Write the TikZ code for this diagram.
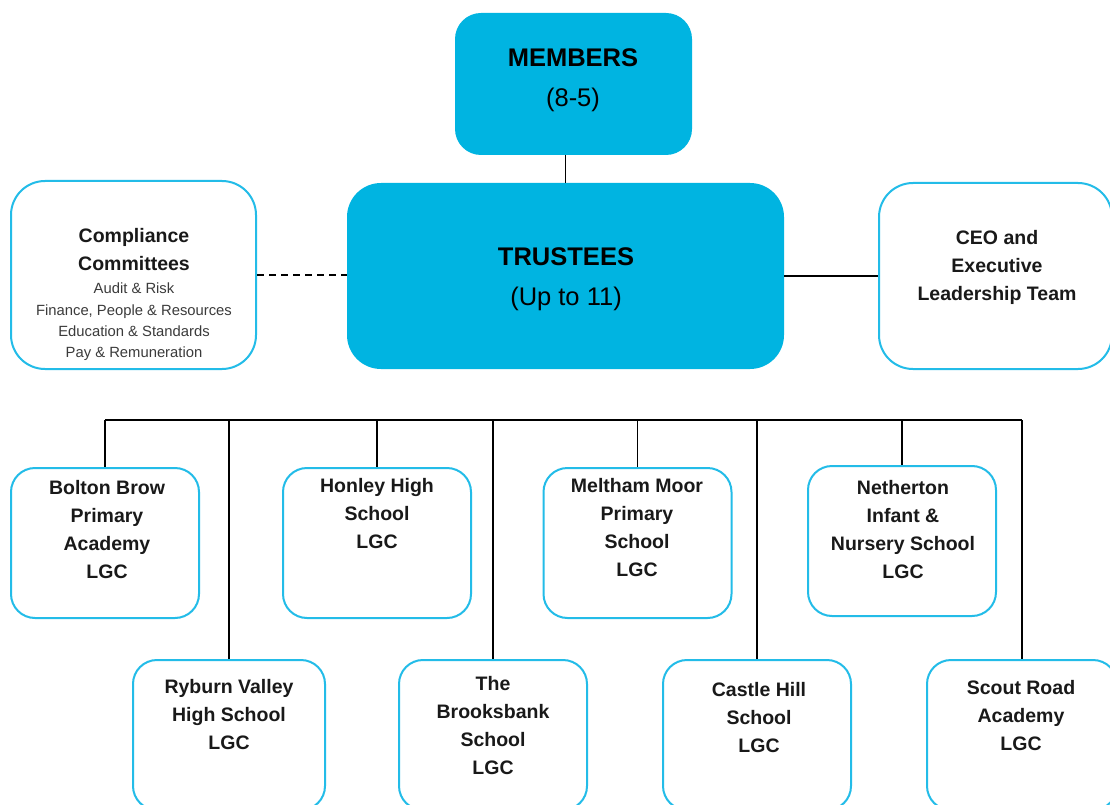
\documentclass[tikz,border=0pt]{standalone}
\usepackage{fontspec}
\setmainfont{Liberation Sans}
\definecolor{cy}{RGB}{0,180,225}
\definecolor{cyl}{RGB}{35,188,232}
\definecolor{txt}{RGB}{25,25,25}
\begin{document}
\begin{tikzpicture}[x=1pt,y=-1pt,
  filledbox/.style={fill=cy, draw=none, inner sep=0, rounded corners=26pt},
  outlinebox/.style={draw=cyl, line width=2pt, fill=white, inner sep=0, rounded corners=34pt},
  schoolbox/.style={draw=cyl, line width=2pt, fill=white, inner sep=0, rounded corners=24pt,
     minimum width=188pt, minimum height=150pt},
  lbl/.style={anchor=north, align=center, inner sep=0, text=txt,
     font=\bfseries\fontsize{19.5}{28}\selectfont},
  biglbl/.style={anchor=north, align=center, inner sep=0, text=black,
     font=\fontsize{25.5}{40.5}\selectfont},
  smalllbl/.style={anchor=north, align=center, inner sep=0, text=txt!85,
     font=\fontsize{14.8}{21.3}\selectfont},
  conn/.style={draw=black, line width=1.5pt},
  dconn/.style={draw=black, line width=1.5pt, dash pattern=on 7pt off 5pt}]
\useasboundingbox (0,0) rectangle (1110,805);
\fill[white] (0,0) rectangle (1110,805);

% top boxes
\node[filledbox, minimum width=237pt, minimum height=142pt] (members) at (573.5,84) {};
\node[filledbox, rounded corners=34pt, minimum width=437pt, minimum height=186pt] (trustees) at (565.5,276) {};
\node[outlinebox, minimum width=245pt, minimum height=188pt] (compl) at (133.5,275) {};
\node[outlinebox, minimum width=233pt, minimum height=186pt] (ceo) at (995.5,276) {};

\node[biglbl] (membersT) at (573,48) {\textbf{MEMBERS}\\(8-5)};
\node[biglbl] (trusteesT) at (566,247) {\textbf{TRUSTEES}\\(Up to 11)};
\node[lbl] (complHead) at (134,228) {Compliance\\Committees};
\node[smalllbl] (complList) at (134,283) {Audit \& Risk\\Finance, People \& Resources\\Education \& Standards\\Pay \& Remuneration};
\node[lbl] (ceoT) at (997,230) {CEO and\\Executive\\Leadership Team};

% connectors at top
\draw[conn] (members.south -| trustees.north) -- (trustees.north);
\draw[dconn] (compl.east) -- (compl.east -| trustees.west);
\draw[conn] (trustees.east) -- (ceo.west);

% school boxes, top row
\node[schoolbox] (bolton) at (105,543) {};
\node[schoolbox] (honley) at (377,543) {};
\node[schoolbox] (meltham) at (637.5,543) {};
\node[schoolbox] (nether) at (902,541) {};
% bottom row
\node[schoolbox, minimum width=192pt] (ryburn) at (229,735) {};
\node[schoolbox] (brooks) at (493,735) {};
\node[schoolbox] (castle) at (757,735) {};
\node[schoolbox, minimum width=190pt] (scout) at (1022,735) {};

\node[lbl] (boltonT) at (107,480) {Bolton Brow\\Primary\\Academy\\LGC};
\node[lbl] (honleyT) at (377,478) {Honley High\\School\\LGC};
\node[lbl] (melthamT) at (637,478) {Meltham Moor\\Primary\\School\\LGC};
\node[lbl] (netherT) at (903,480) {Netherton\\Infant \&\\Nursery School\\LGC};
\node[lbl] (ryburnT) at (229,679) {Ryburn Valley\\High School\\LGC};
\node[lbl] (brooksT) at (493,676) {The\\Brooksbank\\School\\LGC};
\node[lbl] (castleT) at (759,682) {Castle Hill\\School\\LGC};
\node[lbl] (scoutT) at (1021,680) {Scout Road\\Academy\\LGC};

% bus
\coordinate (bus) at (0,420);
\draw[conn] (bolton.north |- bus) -- (scout.north |- bus);
\foreach \n in {bolton,ryburn,honley,brooks,meltham,castle,nether,scout}
  \draw[conn] (\n.north |- bus) -- (\n.north);
\end{tikzpicture}
\end{document}
